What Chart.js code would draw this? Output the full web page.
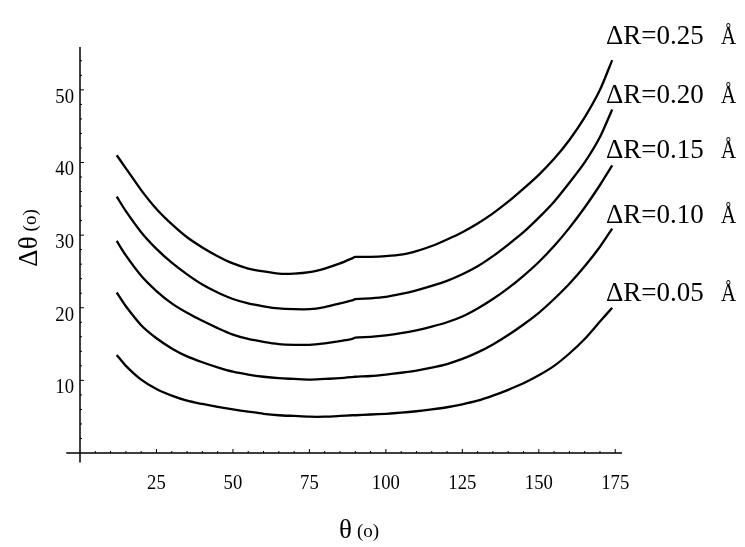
<!DOCTYPE html>
<html>
<head>
<meta charset="utf-8">
<script src="https://cdn.jsdelivr.net/npm/chart.js@4/dist/chart.umd.min.js"></script>
<style>
  html, body { margin: 0; padding: 0; background: #fff; }
  #wrap { width: 745px; height: 547px; }
</style>
</head>
<body>
<div id="wrap"><canvas id="c" width="745" height="547"></canvas></div>
<script>
// Data
const thetas = [12,15,20,25,30,35,40,45,50,55,60,65,70,75,80,85,89,90,95,100,105,110,115,120,125,130,135,140,145,150,155,160,165,170,174];
const dR025 = [41.0,39.2,36.2,33.6,31.5,29.7,28.3,27.1,26.1,25.4,25.0,24.7,24.7,24.9,25.4,26.1,26.8,27.0,27.0,27.1,27.3,27.8,28.5,29.4,30.4,31.6,33.0,34.6,36.4,38.3,40.5,43.1,46.2,50.0,54.1];
const dR020 = [35.3,33.3,30.4,28.1,26.2,24.6,23.2,22.1,21.2,20.6,20.2,19.9,19.8,19.8,20.1,20.6,21.0,21.2,21.3,21.5,21.9,22.4,23.0,23.7,24.6,25.7,27.1,28.7,30.4,32.4,34.6,37.2,40.0,43.5,47.3];
const dR015 = [29.2,27.2,24.4,22.3,20.6,19.3,18.2,17.2,16.3,15.7,15.3,15.0,14.9,14.9,15.1,15.4,15.7,15.9,16.0,16.2,16.5,16.9,17.4,18.0,18.8,19.9,21.2,22.7,24.4,26.3,28.5,31.0,33.8,36.9,39.6];
const dR010 = [22.1,20.2,17.6,15.8,14.4,13.3,12.5,11.8,11.2,10.8,10.5,10.3,10.2,10.1,10.2,10.3,10.45,10.5,10.6,10.8,11.05,11.35,11.75,12.25,12.95,13.85,14.95,16.25,17.7,19.3,21.2,23.3,25.7,28.4,30.9];
const dR005 = [13.5,12.0,10.1,8.8,7.9,7.2,6.75,6.35,6.0,5.7,5.4,5.2,5.1,5.0,5.0,5.1,5.2,5.2,5.3,5.4,5.55,5.75,6.0,6.3,6.7,7.2,7.9,8.7,9.6,10.7,12.0,13.7,15.7,18.1,20.0];
const seriesLabels = ["ΔR=0.25", "ΔR=0.20", "ΔR=0.15", "ΔR=0.10", "ΔR=0.05"];
const unitLabel = "Å";
const xTicks = [25,50,75,100,125,150,175];
const yTicks = [10,20,30,40,50];
const xTitle = ["θ", "(o)"];
const yTitle = ["Δθ", "(o)"];

const allSeries = [dR025, dR020, dR015, dR010, dR005];
const toPts = arr => arr.map((v, i) => ({x: thetas[i], y: v}));

const SERIF = '"Liberation Serif", "DejaVu Serif", serif';

// draw horizontally condensed text
function condText(ctx, txt, x, y, align, sx) {
  ctx.save();
  ctx.translate(x, y);
  ctx.scale(sx, 1);
  ctx.textAlign = align;
  ctx.fillText(txt, 0, 0);
  ctx.restore();
}

const axesPlugin = {
  id: 'paperAxes',
  afterDraw(chart) {
    const ctx = chart.ctx;
    const xs = chart.scales.x, ys = chart.scales.y;
    const x0 = xs.getPixelForValue(0), y0 = ys.getPixelForValue(0);
    ctx.save();
    ctx.strokeStyle = '#000';
    ctx.fillStyle = '#000';
    ctx.lineWidth = 1.5;
    // axis lines
    ctx.beginPath();
    ctx.moveTo(xs.getPixelForValue(-4.5), y0);
    ctx.lineTo(xs.getPixelForValue(xs.max), y0);
    ctx.moveTo(x0, ys.getPixelForValue(-1.3));
    ctx.lineTo(x0, ys.getPixelForValue(ys.max));
    ctx.stroke();
    // inward ticks
    ctx.lineWidth = 1;
    ctx.beginPath();
    for (let v = 5; v <= 175; v += 5) {
      const px = xs.getPixelForValue(v);
      const len = (v % 25 === 0) ? 4 : 2;
      ctx.moveTo(px, y0);
      ctx.lineTo(px, y0 - len);
    }
    for (let v = 2; v <= 54; v += 2) {
      const py = ys.getPixelForValue(v);
      const len = (v % 10 === 0) ? 4 : 2;
      ctx.moveTo(x0, py);
      ctx.lineTo(x0 + len, py);
    }
    ctx.stroke();
    // tick labels
    ctx.font = '22px ' + SERIF;
    ctx.textBaseline = 'middle';
    xTicks.forEach(v => condText(ctx, String(v), xs.getPixelForValue(v), y0 + 30, 'center', 0.85));
    yTicks.forEach(v => condText(ctx, String(v), x0 - 6, ys.getPixelForValue(v) + 7, 'right', 0.85));
    // x title
    ctx.textBaseline = 'alphabetic';
    ctx.textAlign = 'left';
    const gap = 5;
    ctx.font = '27px ' + SERIF;
    const wT = ctx.measureText(xTitle[0]).width;
    ctx.font = '19px ' + SERIF;
    const wO = ctx.measureText(xTitle[1]).width;
    const cx = (xs.getPixelForValue(0) + xs.getPixelForValue(xs.max)) / 2 + 8;
    const sx = cx - (wT + gap + wO) / 2;
    ctx.font = '27px ' + SERIF;
    ctx.fillText(xTitle[0], sx, 538);
    ctx.font = '19px ' + SERIF;
    ctx.fillText(xTitle[1], sx + wT + gap, 537);
    // y title (rotated)
    ctx.save();
    const cy = (ys.getPixelForValue(0) + ys.getPixelForValue(ys.max)) / 2 - 12;
    ctx.translate(37, cy);
    ctx.rotate(-Math.PI / 2);
    ctx.font = '27px ' + SERIF;
    const wD = ctx.measureText(yTitle[0]).width;
    ctx.font = '19px ' + SERIF;
    const wO2 = ctx.measureText(yTitle[1]).width;
    const sy = -(wD + gap + wO2) / 2;
    ctx.font = '27px ' + SERIF;
    ctx.fillText(yTitle[0], sy, 0);
    ctx.font = '19px ' + SERIF;
    ctx.fillText(yTitle[1], sy + wD + gap, -1);
    ctx.restore();
    // series labels at curve ends
    const dy = [-16, -6, -7, -6, -7];
    allSeries.forEach((arr, i) => {
      const endY = ys.getPixelForValue(arr[arr.length - 1]);
      const base = endY + dy[i];
      ctx.font = '27px ' + SERIF;
      ctx.fillText(seriesLabels[i], 606, base);
      ctx.font = '26px ' + SERIF;
      condText(ctx, unitLabel, 721, base, 'left', 0.8);
    });
    ctx.restore();
  }
};

new Chart(document.getElementById('c'), {
  type: 'line',
  data: {
    datasets: allSeries.map((arr, i) => ({
      label: seriesLabels[i],
      data: toPts(arr),
      borderColor: '#000',
      borderWidth: 2.3,
      pointRadius: 0,
      tension: 0.25,
      fill: false
    }))
  },
  options: {
    responsive: false,
    animation: false,
    layout: { padding: { left: 80, right: 123, top: 47, bottom: 94 } },
    plugins: { legend: { display: false }, tooltip: { enabled: false } },
    scales: {
      x: { type: 'linear', min: 0, max: 177.2, display: false },
      y: { type: 'linear', min: 0, max: 55.9, display: false }
    }
  },
  plugins: [axesPlugin]
});
</script>
</body>
</html>
